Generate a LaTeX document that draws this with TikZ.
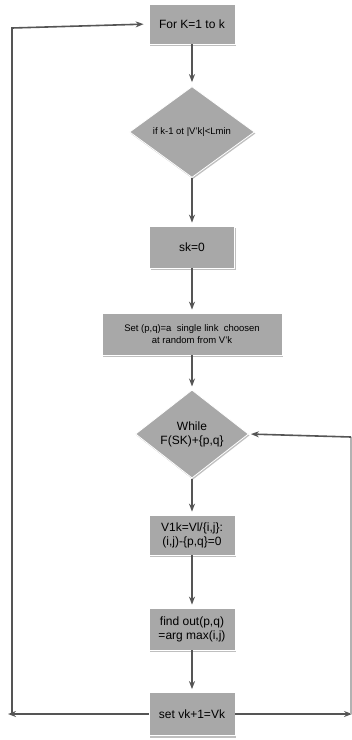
\documentclass[tikz,border=0pt]{standalone}
\usepackage{fontspec}
\setmainfont{Liberation Sans}
\usetikzlibrary{shapes.geometric,shadows,arrows.meta}
\definecolor{boxgray}{RGB}{168,168,168}
\definecolor{linegray}{RGB}{85,85,85}
\tikzset{
  box/.style={rectangle, fill=boxgray, draw=white, line width=0.8pt, inner sep=0pt,
    align=center, font=\fontsize{12}{14}\selectfont,
    drop shadow={shadow xshift=1pt, shadow yshift=-2pt, fill=black!25, opacity=1}},
  dia/.style={diamond, fill=boxgray, draw=white, line width=0.8pt, inner sep=0pt,
    align=center, font=\fontsize{12}{14}\selectfont,
    drop shadow={shadow xshift=1pt, shadow yshift=-1.5pt, fill=black!25, opacity=1}},
  small/.style={font=\fontsize{9.5}{12}\selectfont},
  conn/.style={draw=linegray, line width=1.6pt, -{Stealth[length=8pt,width=6pt]}},
  plain/.style={draw=linegray, line width=1.6pt}
}
\begin{document}
\begin{tikzpicture}[x=1pt,y=-1pt]
\useasboundingbox (0,0) rectangle (352,740);
\node[box, minimum width=86pt, minimum height=40pt] (b1) at (192,24) {For K=1 to k};
\node[dia, small, minimum width=125pt, minimum height=91pt] (d1) at (192,132) {if k-1 ot |V'k|<Lmin};
\node[box, minimum width=85pt, minimum height=42pt] (b3) at (192,247) {sk=0};
\node[box, small, minimum width=180pt, minimum height=42pt] (b4) at (192,334) {Set (p,q)=a\ \ single link\ \ choosen\\at random from V'k};
\node[dia, minimum width=113pt, minimum height=82pt] (d2) at (192,434) {While\\F(SK)+\{p,q\}};
\node[box, minimum width=86pt, minimum height=40pt] (b5) at (192,535) {V1k=Vl/\{i,j\}:\\(i,j)-\{p,q\}=0};
\node[box, minimum width=86pt, minimum height=42pt] (b6) at (192,629) {find out(p,q)\\=arg max(i,j)};
\node[box, minimum width=86pt, minimum height=43pt] (b7) at (192,714) {set vk+1=Vk};
\coordinate (lb) at (8,714);
\coordinate (lt) at (12,28);
\coordinate (rb) at (352,714);
\coordinate (rt) at (351,437);
\draw[conn, shorten >=4pt] (b1) -- (d1);
\draw[conn, shorten >=3pt] (d1) -- (b3);
\draw[conn, shorten >=3pt] (b3) -- (b4);
\draw[conn, shorten >=3pt] (b4) -- (d2);
\draw[conn, shorten >=3pt] (d2) -- (b5);
\draw[conn, shorten >=3pt] (b5) -- (b6);
\draw[conn, shorten >=3pt] (b6) -- (b7);
\draw[conn] (b7) -- (lb);
\draw[conn] (b7) -- (rb);
\draw[conn, shorten >=5pt] (12,714) -- (lt) -- (b1.west);
\draw[draw=black!30, line width=1.2pt] (351,714) -- (rt);
\draw[conn, shorten >=2pt] (rt) -- (d2.east);
\end{tikzpicture}
\end{document}
